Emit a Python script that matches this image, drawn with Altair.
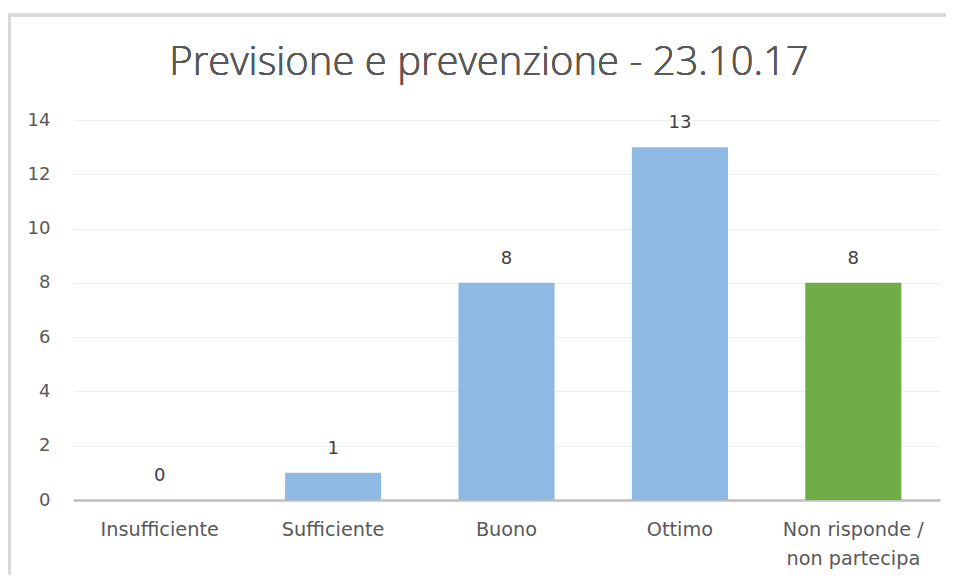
import altair as alt
import pandas as pd

categories = ["Insufficiente", "Sufficiente", "Buono", "Ottimo", "Non risponde / non partecipa"]
values = [0, 1, 8, 13, 8]
colors = ["#8DB9E2", "#8DB9E2", "#8DB9E2", "#8DB9E2", "#70AD47"]
title_text = "Previsione e prevenzione - 23.10.17"

df = pd.DataFrame({"categoria": categories, "valore": values, "colore": colors})

FONT = "DejaVu Sans"
TEXT_COLOR = "#595959"

x_enc = alt.X(
    "categoria:N",
    sort=categories,
    scale=alt.Scale(paddingInner=0.446, paddingOuter=0.223),
    axis=alt.Axis(
        title=None,
        labelAngle=0,
        ticks=False,
        grid=False,
        domainColor="#BFBFBF",
        domainWidth=2.5,
        labelColor=TEXT_COLOR,
        labelFont=FONT,
        labelFontSize=19.3,
        labelPadding=20,
        labelLineHeight=29,
        labelExpr="indexof(datum.label, ' / ') > 0 ? [slice(datum.label, 0, indexof(datum.label, ' / ') + 2), slice(datum.label, indexof(datum.label, ' / ') + 3)] : datum.label",
    ),
)
y_enc = alt.Y(
    "valore:Q",
    scale=alt.Scale(domain=[0, 14]),
    axis=alt.Axis(
        title=None,
        values=[0, 2, 4, 6, 8, 10, 12, 14],
        domain=False,
        ticks=False,
        gridColor="#EDEDED",
        gridWidth=1,
        labelColor=TEXT_COLOR,
        labelFont=FONT,
        labelFontSize=18,
        labelPadding=23,
    ),
)

bars = alt.Chart(df).mark_bar().encode(
    x=x_enc,
    y=y_enc,
    color=alt.Color("colore:N", scale=None, legend=None),
)

labels = alt.Chart(df).mark_text(
    baseline="alphabetic", dy=-19, font=FONT, fontSize=18, color="#404040"
).encode(
    x=x_enc,
    y=y_enc,
    text="valore:Q",
)

border_left = alt.Chart(df).mark_rule(color="#D9D9D9", strokeWidth=3).encode(
    x=alt.value(-64), y=alt.value(-106), y2=alt.value(460)
)
border_top = alt.Chart(df).mark_rule(color="#D9D9D9", strokeWidth=3).encode(
    x=alt.value(-65), x2=alt.value(880), y=alt.value(-105)
)
title = alt.Chart(df).mark_text(
    text=title_text,
    font="Open Sans",
    fontSize=40,
    fontWeight=300,
    color=TEXT_COLOR,
    align="center",
    baseline="alphabetic",
).encode(x=alt.value(416), y=alt.value(-45))

chart = (
    alt.layer(border_left, border_top, title, bars, labels)
    .properties(
        width=867,
        height=380,
        autosize=alt.AutoSizeParams(type="none"),
        padding={"left": 65, "top": 112, "right": 6, "bottom": 75},
    )
    .configure(background="white")
    .configure_view(strokeWidth=0, stroke="transparent")
    .configure_axisX(grid=False)
)

chart.save("out.html", embed_options={"renderer": "svg", "actions": False})
